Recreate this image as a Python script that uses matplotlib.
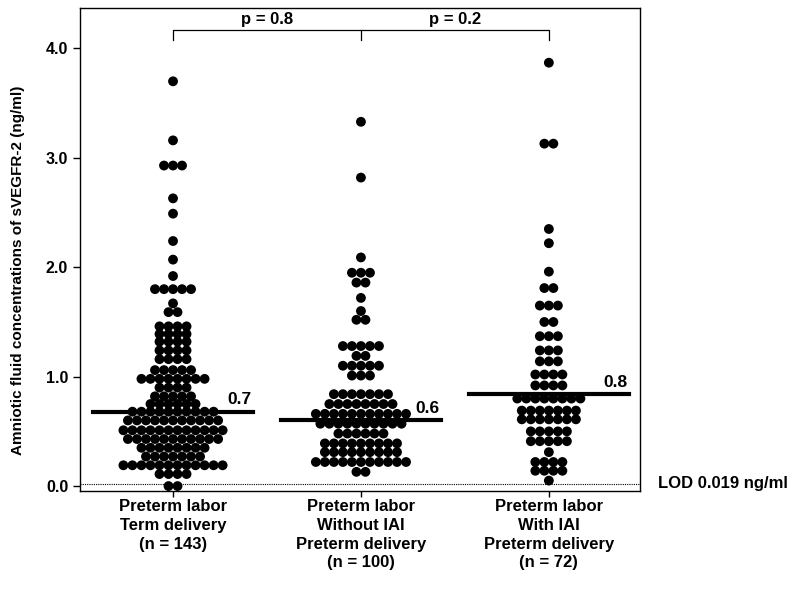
import numpy as np
import matplotlib
matplotlib.use('Agg')
import matplotlib.pyplot as plt

plt.rcParams['font.family'] = ['Liberation Sans', 'DejaVu Sans']
plt.rcParams['font.weight'] = 'bold'

# group labels
groups = ['Preterm labor\nTerm delivery\n(n = 143)',
          'Preterm labor\nWithout IAI\nPreterm delivery\n(n = 100)',
          'Preterm labor\nWith IAI\nPreterm delivery\n(n = 72)']

# dot rows (value in ng/ml, number of dots in that row)
term_values = [3.70, 3.16, 2.93, 2.63, 2.49, 2.24, 2.07, 1.92, 1.80, 1.67, 1.59,
               1.46, 1.39, 1.32, 1.24, 1.16, 1.06, 0.98, 0.90, 0.82, 0.75,
               0.68, 0.60, 0.51, 0.43, 0.35, 0.27, 0.19, 0.11, 0.00]
term_counts = [1, 1, 3, 1, 1, 1, 1, 1, 5, 1, 2,
               4, 4, 4, 4, 4, 5, 8, 4, 5, 6,
               10, 11, 12, 11, 8, 7, 12, 4, 2]

noiai_values = [3.33, 2.82, 2.09, 1.95, 1.86, 1.72, 1.60, 1.52,
                1.28, 1.19, 1.10, 1.01, 0.84, 0.75, 0.66, 0.57,
                0.48, 0.39, 0.31, 0.22, 0.13]
noiai_counts = [1, 1, 1, 3, 2, 1, 1, 2,
                5, 2, 5, 3, 7, 8, 11, 10,
                6, 9, 9, 11, 2]

iai_values = [3.87, 3.13, 2.35, 2.22, 1.96, 1.81, 1.65, 1.50, 1.37, 1.24, 1.14,
              1.02, 0.92, 0.80, 0.69, 0.61, 0.50, 0.41, 0.31, 0.22, 0.14, 0.05]
iai_counts = [1, 2, 1, 1, 1, 2, 3, 2, 3, 3, 3,
              4, 4, 8, 7, 7, 5, 5, 1, 4, 4, 1]

medians = [0.68, 0.60, 0.84]
median_labels = ['0.7', '0.6', '0.8']
p_values = ['p = 0.8', 'p = 0.2']
lod = 0.019

fig = plt.figure(figsize=(8.0, 5.89), dpi=100)
ax = fig.add_axes([0.1, 0.1664, 0.7, 0.82])

# draw the dot columns
dx = 0.048
rows = [(term_values, term_counts), (noiai_values, noiai_counts), (iai_values, iai_counts)]
for g, (vals, cnts) in enumerate(rows):
    xs, ys = [], []
    for v, n in zip(vals, cnts):
        for i in range(n):
            xs.append(g + (i - (n - 1) / 2.0) * dx)
            ys.append(v)
    ax.scatter(xs, ys, s=50, color='black', edgecolors='none', zorder=3)

# median lines and labels
for g, (m, lab) in enumerate(zip(medians, median_labels)):
    ax.plot([g - 0.425, g + 0.425], [m, m], color='black', lw=3, zorder=4)
    ax.text(g + 0.42, m + 0.04, lab, ha='right', va='bottom', fontsize=12.5, fontweight='bold')

# limit of detection
ax.axhline(lod, color='black', lw=0.8, ls=(0, (1, 1)), zorder=1)
ax.text(1.033, lod, 'LOD 0.019 ng/ml', transform=ax.get_yaxis_transform(),
        ha='left', va='center', fontsize=12, fontweight='bold', clip_on=False)

# significance brackets
yb, yt = 4.165, 4.08
ax.plot([0, 0, 2, 2], [yt, yb, yb, yt], color='black', lw=0.9, clip_on=False)
ax.plot([1, 1], [yb, yt], color='black', lw=0.9)
for g, p in enumerate(p_values):
    ax.text(g + 0.5, yb + 0.03, p, ha='center', va='bottom', fontsize=12, fontweight='bold')

ax.set_xlim(-0.495, 2.485)
ax.set_ylim(-0.045, 4.37)
ax.set_xticks([0, 1, 2])
ax.set_xticklabels(groups, fontsize=12, fontweight='bold', linespacing=1.3)
ax.set_yticks([0, 1, 2, 3, 4])
ax.set_yticklabels(['0.0', '1.0', '2.0', '3.0', '4.0'], fontsize=11.5, fontweight='bold')
ax.tick_params(axis='x', length=4, width=1, pad=2)
ax.tick_params(axis='y', length=5, width=1)
for s in ax.spines.values():
    s.set_linewidth(1.0)
ax.set_ylabel('Amniotic fluid concentrations of sVEGFR-2 (ng/ml)', fontsize=11,
              fontweight='bold')
ax.yaxis.set_label_coords(-0.098, 0.457)

fig.savefig('out.png', dpi=100)
